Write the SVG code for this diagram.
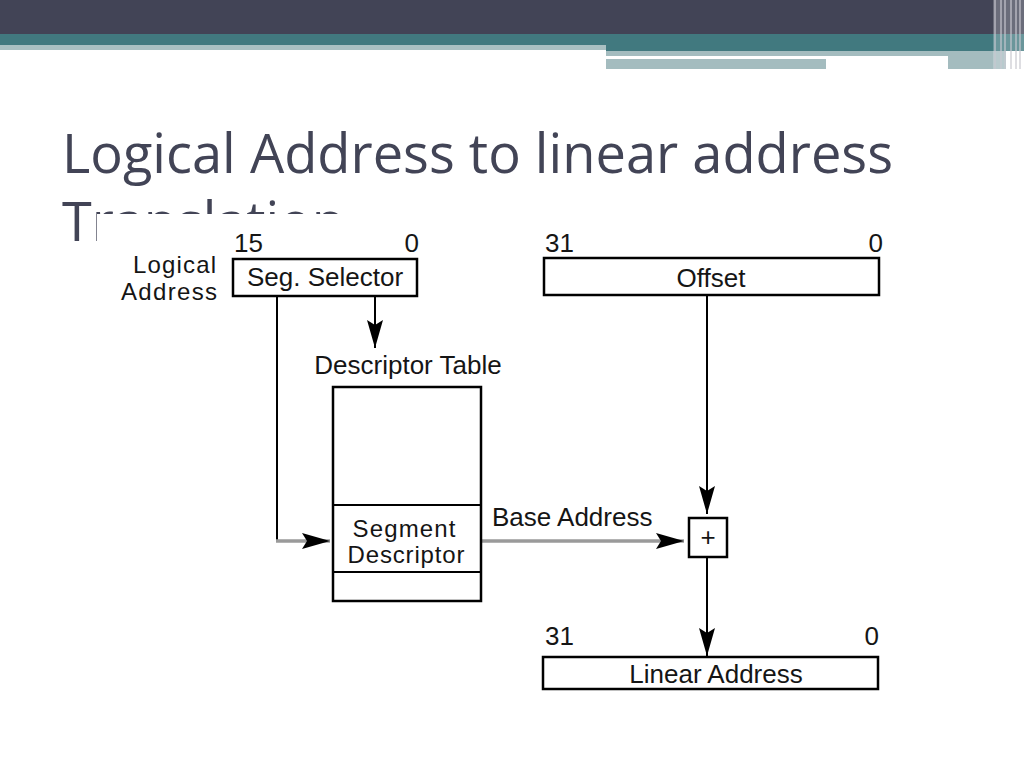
<svg xmlns="http://www.w3.org/2000/svg" width="1024" height="768" viewBox="0 0 1024 768">
<style>
.lbl{font-family:"Liberation Sans",Arial,sans-serif;font-size:26px;fill:#151515}
.sm{font-size:24px}
.title{font-family:"Open Sans","Noto Sans",sans-serif;font-size:54px;fill:#424456}
.box{fill:#ffffff;stroke:#000;stroke-width:2.5}
.wire{fill:none;stroke:#000;stroke-width:2}
.gwire{fill:none;stroke:#9a9a9a;stroke-width:3.5}
</style>
<defs>
<marker id="ah" viewBox="0 0 28 16" refX="28" refY="8" markerWidth="28" markerHeight="16" markerUnits="userSpaceOnUse" orient="auto">
<path d="M0,0 L28,8 L0,16 L5,8 z" fill="#000"/>
</marker>
</defs>
<rect width="1024" height="768" fill="#ffffff"/>
<g id="header">
<rect x="0" y="0" width="1024" height="34" fill="#424456"/>
<rect x="0" y="34" width="1024" height="11" fill="#41797f"/>
<rect x="606" y="45" width="418" height="6" fill="#41797f"/>
<rect x="0" y="45" width="606" height="5" fill="#a9c0c2"/>
<rect x="606" y="51" width="400" height="5" fill="#a4bcbf"/>
<rect x="606" y="59" width="220" height="10" fill="#a4bcbf"/>
<rect x="948" y="56" width="58" height="13" fill="#a4bcbf"/>
<rect x="993" y="0" width="31" height="69" fill="#ffffff" opacity="0.22"/>
<g stroke="#c8c8d0" stroke-width="1.5" opacity="0.8">
<line x1="995" y1="0" x2="995" y2="69"/>
<line x1="1001" y1="0" x2="1001" y2="69"/>
<line x1="1005" y1="0" x2="1005" y2="69"/>
<line x1="1011" y1="0" x2="1011" y2="69"/>
<line x1="1016" y1="0" x2="1016" y2="69"/>
<line x1="1020" y1="0" x2="1020" y2="69"/>
</g>
</g>
<g id="title">
<text class="title" x="62" y="173" textLength="831" lengthAdjust="spacingAndGlyphs">Logical Address to linear address</text>
<text class="title" x="62" y="241">Translation</text>
</g>
<rect id="figure-bg" x="97" y="214" width="810" height="490" fill="#ffffff"/>
<g id="connectors">
<path class="wire" d="M375,296 V348" marker-end="url(#ah)"/>
<path class="wire" d="M277,296 V541"/>
<path class="gwire" d="M276,541 H330" marker-end="url(#ah)"/>
<path class="gwire" d="M482,541 H684" marker-end="url(#ah)"/>
<path class="wire" d="M707,296 V514" marker-end="url(#ah)"/>
<path class="wire" d="M707,557 V656" marker-end="url(#ah)"/>
</g>
<g id="logical-label">
<text class="lbl sm" x="216" y="273" text-anchor="end" textLength="83">Logical</text>
<text class="lbl sm" x="217" y="300" text-anchor="end" textLength="96">Address</text>
</g>
<g id="seg-selector">
<text class="lbl" x="234" y="252">15</text>
<text class="lbl" x="419" y="252" text-anchor="end">0</text>
<rect class="box" x="233" y="259" width="184" height="37"/>
<text class="lbl" x="325" y="286" text-anchor="middle">Seg. Selector</text>
</g>
<g id="descriptor-table">
<text class="lbl" x="408" y="374" text-anchor="middle">Descriptor Table</text>
<rect class="box" x="333" y="387" width="148" height="214"/>
<line x1="333" y1="505" x2="481" y2="505" stroke="#000" stroke-width="2"/>
<line x1="333" y1="572" x2="481" y2="572" stroke="#000" stroke-width="2"/>
<text class="lbl sm" x="404" y="537" text-anchor="middle" textLength="103">Segment</text>
<text class="lbl sm" x="406" y="563" text-anchor="middle" textLength="117">Descriptor</text>
</g>
<g id="base-address-label">
<text class="lbl" x="492" y="526">Base Address</text>
</g>
<g id="offset">
<text class="lbl" x="545" y="252">31</text>
<text class="lbl" x="883" y="252" text-anchor="end">0</text>
<rect class="box" x="544" y="258" width="335" height="37"/>
<text class="lbl" x="711" y="287" text-anchor="middle">Offset</text>
</g>
<g id="adder">
<rect class="box" x="689" y="518" width="38" height="39"/>
<text class="lbl" x="708" y="546" text-anchor="middle">+</text>
</g>
<g id="linear-address">
<text class="lbl" x="545" y="645">31</text>
<text class="lbl" x="879" y="645" text-anchor="end">0</text>
<rect class="box" x="543" y="657" width="335" height="32"/>
<text class="lbl" x="716" y="683" text-anchor="middle">Linear Address</text>
</g>
</svg>
